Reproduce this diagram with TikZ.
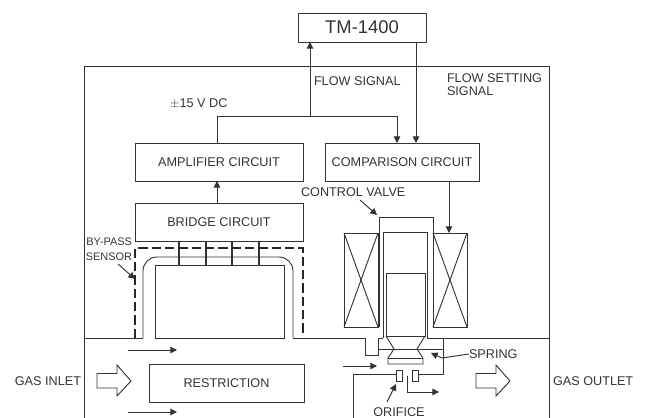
\documentclass[tikz,border=0pt]{standalone}
\usepackage{fontspec}
\setmainfont{Liberation Sans}
\usetikzlibrary{arrows.meta}
\definecolor{inkgray}{gray}{0.2}
\tikzset{
  blockbox/.style={draw=inkgray, line width=0.7pt, inner sep=0pt, outer sep=0pt, text=inkgray, font=\fontsize{9.5}{10}\selectfont},
  tag/.style={inner sep=0pt, outer sep=0pt, text=inkgray, font=\fontsize{9.5}{10}\selectfont, align=left},
  wire/.style={draw=inkgray, line width=0.7pt},
  sig/.style={wire, -{Triangle[length=5pt, width=5pt]}},
}
\begin{document}
\begin{tikzpicture}[x=0.75pt, y=-0.75pt]
    \useasboundingbox (0,0) rectangle (647,418);
    % ==== Parameters ====
    \def\FRAMEL{84} \def\FRAMER{549}  % left and right wall of the unit
    \def\FRAMET{66.5} \def\FLOOR{338} % top wall and floor of the sensor part

    % Circuit blocks
    \node[blockbox, minimum width=96pt, minimum height=21.75pt, font=\fontsize{13.8}{15}\selectfont] (tm) at (362,27.5) {TM-1400};
    \node[blockbox, minimum width=126pt, minimum height=28.5pt] (amp) at (219,162) {AMPLIFIER CIRCUIT};
    \node[blockbox, minimum width=115.5pt, minimum height=28.5pt] (comp) at (402,162) {COMPARISON CIRCUIT};
    \node[blockbox, minimum width=126pt, minimum height=28.5pt] (bridge) at (219,222) {BRIDGE CIRCUIT};
    \node[blockbox, minimum width=116.25pt, minimum height=28.5pt] (restr) at (226.5,383) {RESTRICTION};

    % Unit frame
    \draw[wire] (\FRAMEL,418) -- (\FRAMEL,\FRAMET) -- (\FRAMER,\FRAMET) -- (\FRAMER,418);

    % Signal lines
    \coordinate (flowtop) at (310,42);
    \coordinate (flowjoin) at (310,116.5);
    \coordinate (ampout) at (217,143);
    \coordinate (compin) at (397,143);
    \coordinate (settop) at (416,42);
    \coordinate (setin) at (416,143);
    \draw[sig] (flowjoin) -- (flowtop);
    \draw[sig] (ampout) |- (compin |- flowjoin) -- (compin);
    \draw[sig] (settop) -- (setin);
    \draw[sig] (217,203) -- (217,181);
    \draw[sig] (449,181) -- (449,233);

    % Sensor tube and its windings
    \draw[wire, rounded corners=10.5pt] (143,\FLOOR) -- (143,257) -- (293,257) -- (293,\FLOOR);
    \draw[wire] (\FRAMEL,\FLOOR) -- (143,\FLOOR);
    \draw[wire] (293,\FLOOR) -- (365,\FLOOR) -- (365,355) -- (378,355) -- (378,\FLOOR) -- (383,\FLOOR);
    \draw[wire] (155,\FLOOR) rectangle (284,265);
    \foreach \x in {179,206,232,259}{
        \draw[draw=inkgray, line width=1pt] (\x,241) -- (\x,265);
      }
    \draw[draw=black!85, line width=1.4pt, dash pattern=on 7pt off 3pt] (135,\FLOOR) -- (135,248) -- (303,248) -- (303,335);

    % Solenoid coils
    \foreach \x in {344,433}{
        \draw[wire] (\x,233) rectangle (\x+34,327);
        \draw[wire] (\x,233) -- (\x+34,327);
        \draw[wire] (\x+34,233) -- (\x,327);
      }

    % Control valve body and plunger
    \draw[wire] (379,327) -- (379,217) -- (433,217) -- (433,327);
    \draw[wire] (383,\FLOOR) -- (383,232) -- (427,232) -- (427,\FLOOR) -- (\FRAMER,\FLOOR);
    \draw[wire] (386,336) -- (386,273) -- (425,273) -- (425,336) -- cycle;
    \draw[wire] (386,336) -- (394,349) -- (388,358) -- (388,364) -- (423,364) -- (423,358) -- (417,349) -- (425,336);
    \draw[wire] (388,358) -- (423,358);
    \draw[wire] (378,349) -- (443,349);

    % Orifice
    \draw[wire] (396,370) rectangle (402,381);
    \draw[wire] (412,370) rectangle (418,381);
    \draw[wire] (396,374) -- (353,374) -- (353,418);
    \draw[wire] (418,374) -- (443,374) -- (443,\FLOOR);

    % Gas flow arrows
    \draw[sig] (128,350) -- (177,350);
    \draw[sig] (128,412) -- (177,412);
    \draw[sig] (343,366) -- (377,366);
    \draw[sig] (407,376) -- (407,392) -- (439,392);
    \foreach \x in {97,476}{
        \draw[wire] (\x,373.5) -- (\x+20,373.5) -- (\x+20,365) -- (\x+34,381) -- (\x+20,396) -- (\x+20,388) -- (\x,388) -- cycle;
      }

    % Labels
    \node[tag, anchor=west] (flowlab) at (314,81.5) {FLOW SIGNAL};
    \node[tag, anchor=north west, font=\fontsize{9.5}{9.75}\selectfont] (setlab) at (447,74) {FLOW SETTING\\SIGNAL};
    \node[tag, anchor=west] (dclab) at (170,104) {$\pm$15 V DC};
    \node[tag, anchor=west] (cvlab) at (301,192) {CONTROL VALVE};
    \node[tag, anchor=east, font=\fontsize{8.2}{9}\selectfont] (bypasslab) at (132,242) {BY-PASS};
    \node[tag, anchor=east, font=\fontsize{8.2}{9}\selectfont] (sensorlab) at (132,257) {SENSOR};
    \node[tag, anchor=east] (inlab) at (81,381) {GAS INLET};
    \node[tag, anchor=west] (outlab) at (553,381) {GAS OUTLET};
    \node[tag, anchor=west] (springlab) at (469,354) {SPRING};
    \node[tag] (orilab) at (399,412) {ORIFICE};

    % Leaders
    \coordinate (cvtip) at (377,215);
    \coordinate (sensortip) at (135,279);
    \coordinate (springtip) at (431,353);
    \coordinate (oritip) at (396,384);
    \draw[sig] (360,200) -- (cvtip);
    \draw[sig] (118,264) -- (sensortip);
    \draw[sig] (springlab.west) -- (442,358) -- (springtip);
    \draw[sig] (387,402) -- (oritip);
  \end{tikzpicture}
\end{document}
